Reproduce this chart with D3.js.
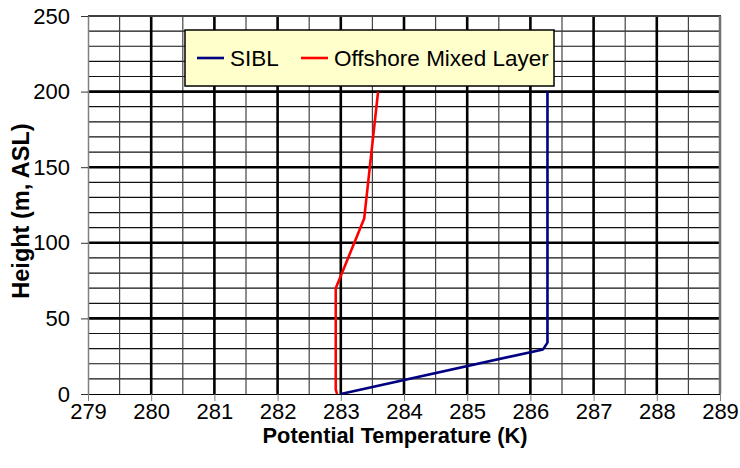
<!DOCTYPE html>
<html>
<head>
<meta charset="utf-8">
<script src="https://cdn.jsdelivr.net/npm/d3@7"></script>
<style>
  body { margin: 0; background: #fff; }
  svg { display: block; font-family: "Liberation Sans", Arial, sans-serif; }
</style>
</head>
<body>
<div id="chart"></div>
<script>
// series: [potential temperature (K), height (m)]
const sibl = [[283.0, 0], [286.2, 29.5], [286.27, 34], [286.27, 200]];
const offshore = [[282.94, 0], [282.92, 3], [282.92, 70], [282.97, 75], [283.37, 116], [283.59, 200]];
const seriesNames = ["SIBL", "Offshore Mixed Layer"];
const seriesColors = ["#000080", "#ff0000"];
const xTicks = [279, 280, 281, 282, 283, 284, 285, 286, 287, 288, 289];
const yTicks = [0, 50, 100, 150, 200, 250];

const width = 740, height = 468;
const plotLeft = 88, plotRight = 720, plotTop = 16, plotBottom = 394;

const svg = d3.select("#chart").append("svg")
    .attr("width", width)
    .attr("height", height);

const x = d3.scaleLinear().domain([279, 289]).range([plotLeft, plotRight]);
const y = d3.scaleLinear().domain([0, 250]).range([plotBottom, plotTop]);

// grid: minor first, then major on top
const minorX = d3.range(279.5, 289, 1);
const minorY = d3.range(10, 250, 10).filter(v => v % 50 !== 0);

svg.append("g").selectAll("line").data(minorY).enter().append("line")
    .attr("x1", plotLeft).attr("x2", plotRight)
    .attr("y1", d => y(d)).attr("y2", d => y(d))
    .attr("stroke", "#111").attr("stroke-width", 1.2);

svg.append("g").selectAll("line").data(minorX).enter().append("line")
    .attr("x1", d => x(d)).attr("x2", d => x(d))
    .attr("y1", plotTop).attr("y2", plotBottom)
    .attr("stroke", "#444").attr("stroke-width", 1.2);

svg.append("g").selectAll("line").data(yTicks.filter(v => v > 0 && v < 250)).enter().append("line")
    .attr("x1", plotLeft).attr("x2", plotRight)
    .attr("y1", d => y(d)).attr("y2", d => y(d))
    .attr("stroke", "#000").attr("stroke-width", 2.6);

svg.append("g").selectAll("line").data(xTicks.slice(1, -1)).enter().append("line")
    .attr("x1", d => x(d)).attr("x2", d => x(d))
    .attr("y1", plotTop).attr("y2", plotBottom)
    .attr("stroke", "#000").attr("stroke-width", 2.6);

// plot area border
svg.append("line").attr("x1", plotLeft).attr("x2", plotRight + 1).attr("y1", plotTop).attr("y2", plotTop)
    .attr("stroke", "#404040").attr("stroke-width", 2);
svg.append("line").attr("x1", plotRight).attr("x2", plotRight).attr("y1", plotTop).attr("y2", plotBottom)
    .attr("stroke", "#707070").attr("stroke-width", 2.5);

// axes
const xAxis = svg.append("g")
    .attr("transform", `translate(0,${plotBottom})`)
    .call(d3.axisBottom(x).tickValues(xTicks).tickSize(7).tickPadding(2).tickSizeOuter(0));
const yAxis = svg.append("g")
    .attr("transform", `translate(${plotLeft},0)`)
    .call(d3.axisLeft(y).tickValues(yTicks).tickSize(7).tickPadding(11).tickSizeOuter(0));

xAxis.select(".domain").attr("stroke", "#000").attr("stroke-width", 1.2);
yAxis.select(".domain").attr("stroke", "#808080").attr("stroke-width", 1.5);
xAxis.selectAll(".tick line").attr("stroke", "#808080");
yAxis.selectAll(".tick line").attr("stroke", "#333");
[xAxis, yAxis].forEach(a => a.selectAll("text")
    .attr("font-size", 22)
    .attr("font-family", "Liberation Sans, Arial, sans-serif")
    .attr("fill", "#000"));

// lines
const line = d3.line().x(d => x(d[0])).y(d => y(d[1]));
[sibl, offshore].forEach((s, i) => {
  svg.append("path")
      .datum(s)
      .attr("d", line)
      .attr("fill", "none")
      .attr("stroke", seriesColors[i])
      .attr("stroke-width", 2.6)
      .attr("stroke-linejoin", "round");
});

// legend
const legend = svg.append("g").attr("transform", "translate(185,30)");
legend.append("rect")
    .attr("width", 369).attr("height", 56)
    .attr("fill", "#ffffcc").attr("stroke", "#000").attr("stroke-width", 1.5);
const legendX = [12, 116];
seriesNames.forEach((name, i) => {
  legend.append("line")
      .attr("x1", legendX[i]).attr("x2", legendX[i] + 27)
      .attr("y1", 28).attr("y2", 28)
      .attr("stroke", seriesColors[i]).attr("stroke-width", 2.6);
  legend.append("text")
      .attr("x", legendX[i] + 33).attr("y", 36)
      .attr("font-size", 22.5)
      .text(name);
});

// axis titles
svg.append("text")
    .attr("x", 395).attr("y", 443)
    .attr("text-anchor", "middle")
    .attr("font-size", 21.8).attr("font-weight", "bold")
    .text("Potential Temperature (K)");
svg.append("text")
    .attr("transform", "translate(29,211) rotate(-90)")
    .attr("text-anchor", "middle")
    .attr("font-size", 23.5).attr("font-weight", "bold")
    .text("Height (m, ASL)");
</script>
</body>
</html>
